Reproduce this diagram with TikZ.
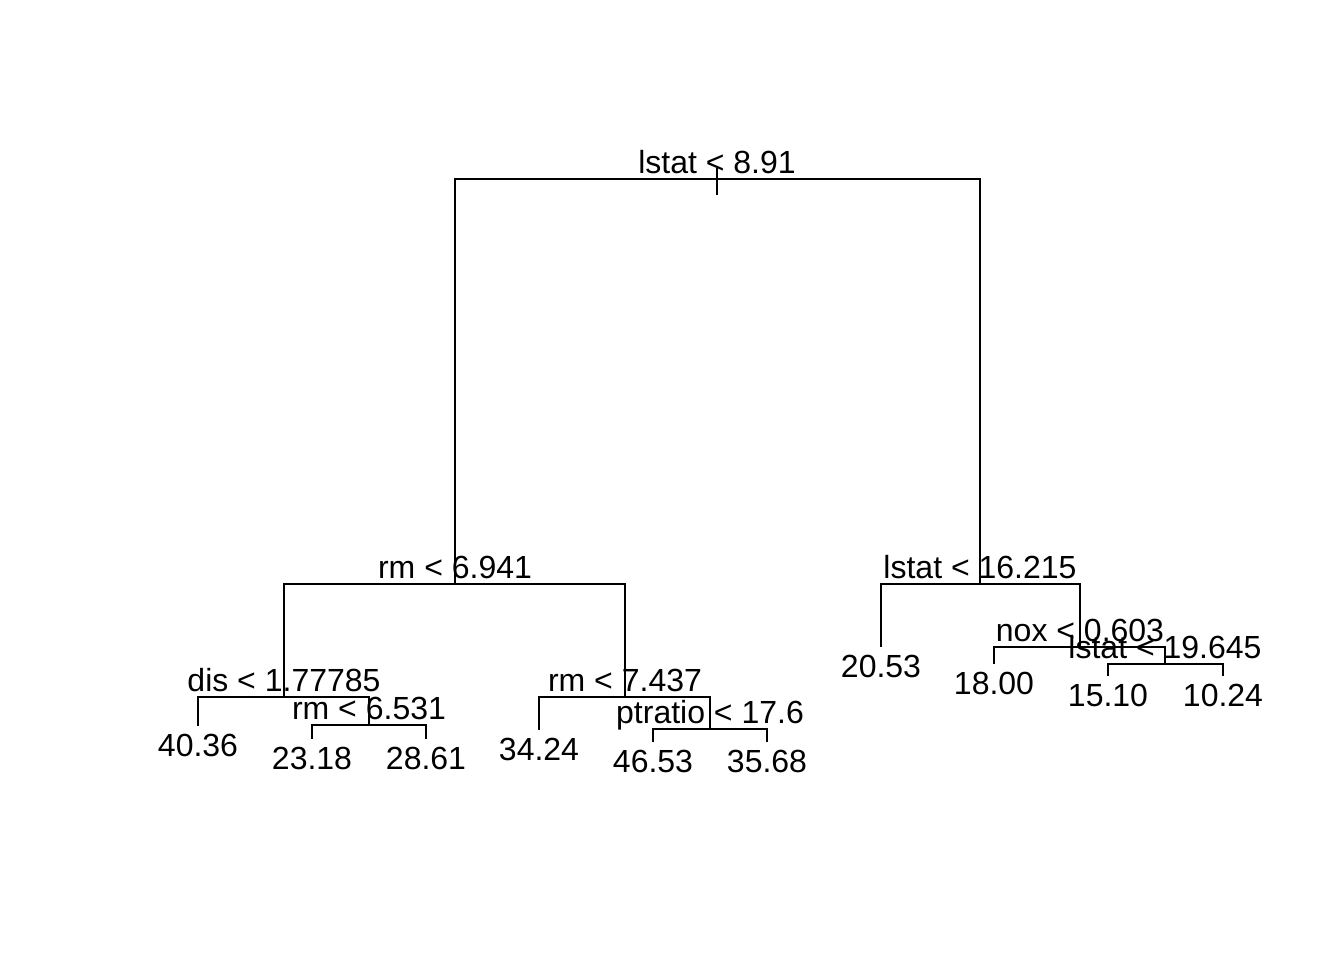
\documentclass[tikz,border=0pt]{standalone}
\usepackage{fontspec}
\setmainfont{Liberation Sans}
\usetikzlibrary{positioning}

\tikzset{
  split/.style={anchor=base, inner sep=0pt, font=\fontsize{12}{14}\selectfont},
  leaf/.style={anchor=base, inner sep=0pt, font=\fontsize{12}{14}\selectfont},
  branch/.style={line width=0.8pt},
}

\begin{document}
\begin{tikzpicture}[x=0.375pt, y=-0.375pt]
  \useasboundingbox (0,0) rectangle (1344,960);
  % 分岐点
  \coordinate (root) at (717,179);
  \coordinate (rm1) at (455,584);
  \coordinate (ls2) at (980,584);
  \coordinate (dis) at (284,697);
  \coordinate (rm3) at (625,697);
  \coordinate (rm2) at (369,725);
  \coordinate (ptr) at (710,729);
  \coordinate (nox) at (1080,647);
  \coordinate (ls3) at (1165,664);
  % 葉
  \coordinate (lfa) at (198,726);
  \coordinate (lfb) at (312,739);
  \coordinate (lfc) at (426,739);
  \coordinate (lfd) at (539,730);
  \coordinate (lfe) at (653,742);
  \coordinate (lff) at (767,742);
  \coordinate (lfg) at (881,647);
  \coordinate (lfh) at (994,664);
  \coordinate (lfi) at (1108,676);
  \coordinate (lfj) at (1223,676);
  % 枝
  \draw[branch] (717,168) -- (717,195);
  \draw[branch] (root) -| (rm1) (root) -| (ls2);
  \draw[branch] (rm1) -| (dis) (rm1) -| (rm3);
  \draw[branch] (dis) -| (lfa) (dis) -| (rm2);
  \draw[branch] (rm2) -| (lfb) (rm2) -| (lfc);
  \draw[branch] (rm3) -| (lfd) (rm3) -| (ptr);
  \draw[branch] (ptr) -| (lfe) (ptr) -| (lff);
  \draw[branch] (ls2) -| (lfg) (ls2) -| (nox);
  \draw[branch] (nox) -| (lfh) (nox) -| (ls3);
  \draw[branch] (ls3) -| (lfi) (ls3) -| (lfj);
  % 分岐ラベル
  \node[split] (troot) at ([yshift=2.2pt]root) {lstat < 8.91};
  \node[split] (trm1) at ([yshift=2.2pt]rm1) {rm < 6.941};
  \node[split] (tls2) at ([yshift=2.2pt]ls2) {lstat < 16.215};
  \node[split] (tdis) at ([yshift=2.2pt]dis) {dis < 1.77785};
  \node[split] (trm3) at ([yshift=2.2pt]rm3) {rm < 7.437};
  \node[split] (trm2) at ([yshift=2.2pt]rm2) {rm < 6.531};
  \node[split] (tptr) at ([yshift=2.2pt]ptr) {ptratio < 17.6};
  \node[split] (tnox) at ([yshift=2.2pt]nox) {nox < 0.603};
  \node[split] (tls3) at ([yshift=2.2pt]ls3) {lstat < 19.645};
  % 葉ラベル
  \node[leaf] (vala) at ([yshift=-11.6pt]lfa) {40.36};
  \node[leaf] (valb) at ([yshift=-11.6pt]lfb) {23.18};
  \node[leaf] (valc) at ([yshift=-11.6pt]lfc) {28.61};
  \node[leaf] (vald) at ([yshift=-11.6pt]lfd) {34.24};
  \node[leaf] (vale) at ([yshift=-11.6pt]lfe) {46.53};
  \node[leaf] (valf) at ([yshift=-11.6pt]lff) {35.68};
  \node[leaf] (valg) at ([yshift=-11.6pt]lfg) {20.53};
  \node[leaf] (valh) at ([yshift=-11.6pt]lfh) {18.00};
  \node[leaf] (vali) at ([yshift=-11.6pt]lfi) {15.10};
  \node[leaf] (valj) at ([yshift=-11.6pt]lfj) {10.24};
\end{tikzpicture}
\end{document}
